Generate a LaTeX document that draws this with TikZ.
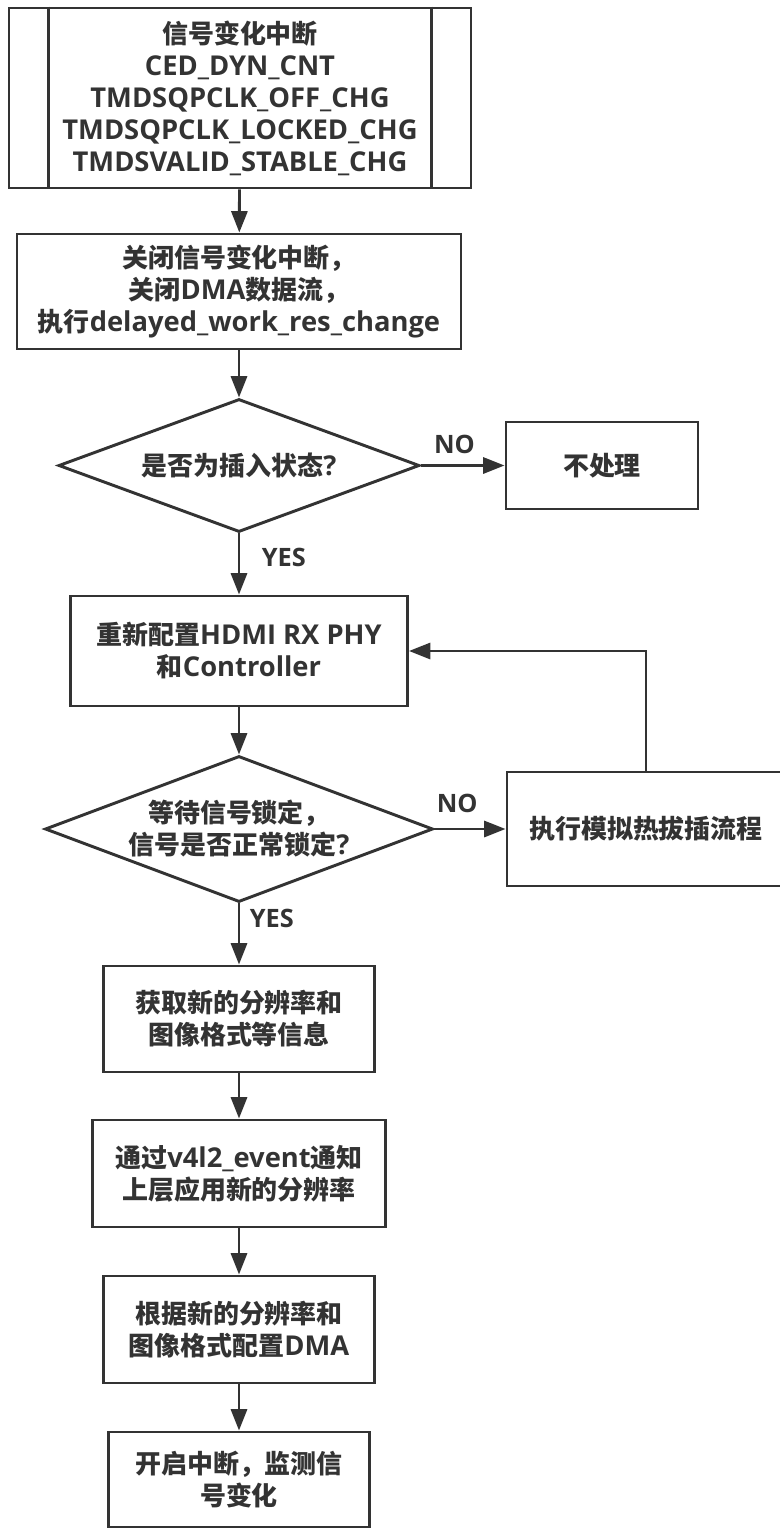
\documentclass[tikz,border=0pt]{standalone}
\usepackage{fontspec}
\setmainfont{Open Sans}
\newfontfamily\cjk{Noto Sans CJK SC}[Scale=0.95]
\newcommand{\zh}[1]{{\cjk #1}}
\usetikzlibrary{shapes.geometric,arrows.meta}
\definecolor{ink}{HTML}{333333}
\tikzset{
  box/.style={draw=ink, line width=2.2pt, rectangle, align=center, inner sep=0pt},
  decision/.style={draw=ink, line width=2.2pt, diamond, align=center, inner sep=0pt},
  arrow/.style={draw=ink, line width=2.2pt, -{Triangle[length=16pt,width=12pt]}},
  tag/.style={text=ink, inner sep=0pt, font=\bfseries\fontsize{19}{22}\selectfont}
}
\begin{document}
\begin{tikzpicture}[x=0.75pt, y=-0.75pt, font=\bfseries\fontsize{20.5}{24}\selectfont, text=ink]
    \useasboundingbox (0,0) rectangle (779,1529);

    \node[box, minimum width=346.5pt, minimum height=135pt] (intr) at (240,98)
      {\zh{信号变化中断}\\CED\_DYN\_CNT\\TMDSQPCLK\_OFF\_CHG\\TMDSQPCLK\_LOCKED\_CHG\\TMDSVALID\_STABLE\_CHG};
    \draw[draw=ink, line width=2.2pt] ([xshift=30.75pt]intr.north west) -- ([xshift=30.75pt]intr.south west);
    \draw[draw=ink, line width=2.2pt] ([xshift=-30.75pt]intr.north east) -- ([xshift=-30.75pt]intr.south east);

    \node[box, minimum width=333pt, minimum height=86.25pt] (stop) at (239,291.5)
      {\zh{关闭信号变化中断，}\\\zh{关闭}DMA\zh{数据流，}\\\zh{执行}delayed\_work\_res\_change};

    \node[decision, aspect=2.71, minimum width=270.75pt, minimum height=99.75pt] (plug) at (239,465.5)
      {\zh{是否为插入状态}?};
    \node[box, minimum width=144pt, minimum height=65.25pt] (skip) at (602,465.5)
      {\zh{不处理}};

    \node[box, minimum width=252.75pt, minimum height=82.5pt] (reconf) at (239,651)
      {\zh{重新配置}HDMI RX PHY\\\zh{和}Controller};

    \node[decision, aspect=2.66, minimum width=291pt, minimum height=109.5pt] (lock) at (239,829)
      {\zh{等待信号锁定，}\\\zh{信号是否正常锁定}?};
    \node[box, minimum width=208.5pt, minimum height=85.5pt] (hotplug) at (646,829)
      {\zh{执行模拟热拔插流程}};

    \node[box, minimum width=203.25pt, minimum height=79.5pt] (info) at (239,1019)
      {\zh{获取新的分辨率和}\\\zh{图像格式等信息}};
    \node[box, minimum width=219.75pt, minimum height=80.25pt] (notify) at (239,1173.5)
      {\zh{通过}v4l2\_event\zh{通知}\\\zh{上层应用新的分辨率}};
    \node[box, minimum width=203.25pt, minimum height=80.25pt] (dma) at (239,1329.5)
      {\zh{根据新的分辨率和}\\\zh{图像格式配置}DMA};
    \node[box, minimum width=195.75pt, minimum height=71.25pt] (irq) at (239,1479.5)
      {\zh{开启中断，监测信}\\\zh{号变化}};

    \draw[arrow] (intr) -- (stop);
    \draw[arrow] (stop) -- (plug);
    \draw[arrow] (plug) -- node[tag, right=16pt, pos=0.4] {YES} (reconf);
    \draw[arrow] (plug) -- node[tag, above=8pt, pos=0.4] {NO} (skip);
    \draw[arrow] (reconf) -- (lock);
    \draw[arrow] (lock) -- node[tag, above=11pt, pos=0.32] {NO} (hotplug);
    \draw[arrow] (hotplug.north) |- (reconf.east);
    \draw[arrow] (lock) -- node[tag, right=7pt, pos=0.25] {YES} (info);
    \draw[arrow] (info) -- (notify);
    \draw[arrow] (notify) -- (dma);
    \draw[arrow] (dma) -- (irq);

  \end{tikzpicture}
\end{document}
